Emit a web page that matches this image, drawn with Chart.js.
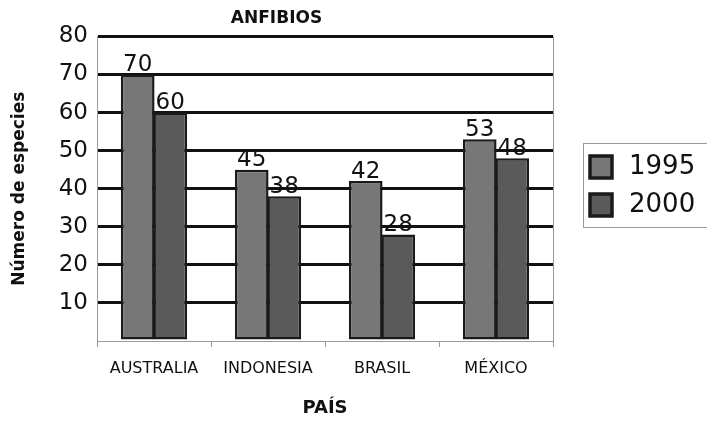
<!DOCTYPE html>
<html lang="es">
<head>
    <meta charset="UTF-8">
    <title>ANFIBIOS</title>
    <script src="https://cdn.jsdelivr.net/npm/chart.js@4.4.1/dist/chart.umd.min.js"></script>
    <style>
        body { margin: 0; background: #fff; }
    </style>
</head>
<body>
    <canvas id="grafico" width="707" height="422"></canvas>

    <script>
        // datos
        const paises = ['AUSTRALIA', 'INDONESIA', 'BRASIL', 'MÉXICO'];
        const anios = ['1995', '2000'];
        const especies1995 = [70, 45, 42, 53];
        const especies2000 = [60, 38, 28, 48];
        const marcasY = [10, 20, 30, 40, 50, 60, 70, 80];

        const fuenteNum = '"DejaVu Sans", Verdana, sans-serif';

        // etiquetas de valor encima de cada barra
        const etiquetas = {
            id: 'etiquetas',
            afterDatasetsDraw(chart) {
                const ctx = chart.ctx;
                ctx.save();
                ctx.font = '23px ' + fuenteNum;
                ctx.fillStyle = '#111';
                ctx.textAlign = 'center';
                ctx.textBaseline = 'bottom';
                chart.data.datasets.forEach((ds, i) => {
                    chart.getDatasetMeta(i).data.forEach((bar, j) => {
                        ctx.fillText(ds.data[j], bar.x, bar.y + 2);
                    });
                });
                ctx.restore();
            }
        };

        // borde gris del área de trazado (lado derecho)
        const bordeArea = {
            id: 'bordeArea',
            beforeDatasetsDraw(chart) {
                const a = chart.chartArea;
                const ctx = chart.ctx;
                ctx.save();
                ctx.strokeStyle = '#999';
                ctx.lineWidth = 1;
                ctx.beginPath();
                ctx.moveTo(a.right + 0.5, a.top);
                ctx.lineTo(a.right + 0.5, a.bottom);
                ctx.stroke();
                ctx.restore();
            }
        };

        // leyenda con recuadro a la derecha
        const leyenda = {
            id: 'leyenda',
            afterDraw(chart) {
                const ctx = chart.ctx;
                ctx.save();
                ctx.strokeStyle = '#999';
                ctx.lineWidth = 1;
                ctx.strokeRect(583.5, 143.5, 140, 84);
                ctx.font = '26px ' + fuenteNum;
                ctx.textBaseline = 'middle';
                ctx.textAlign = 'left';
                chart.data.datasets.forEach((ds, i) => {
                    const y = 156 + i * 38;
                    ctx.fillStyle = ds.backgroundColor;
                    ctx.fillRect(590, y, 22, 22);
                    ctx.strokeStyle = '#1a1a1a';
                    ctx.lineWidth = 3.5;
                    ctx.strokeRect(590, y, 22, 22);
                    ctx.fillStyle = '#111';
                    ctx.fillText(ds.label, 629, y + 11);
                });
                ctx.restore();
            }
        };

        const ctx = document.getElementById('grafico').getContext('2d');
        new Chart(ctx, {
            type: 'bar',
            data: {
                labels: paises,
                datasets: [{
                    label: anios[0],
                    data: especies1995,
                    backgroundColor: '#777777',
                    borderColor: '#1a1a1a',
                    borderWidth: 2.5,
                    borderSkipped: false
                }, {
                    label: anios[1],
                    data: especies2000,
                    backgroundColor: '#5a5a5a',
                    borderColor: '#1a1a1a',
                    borderWidth: 2.5,
                    borderSkipped: false
                }]
            },
            options: {
                responsive: false,
                animation: false,
                layout: { padding: { left: 0, right: 154, top: 0, bottom: 0 } },
                datasets: {
                    bar: { categoryPercentage: 0.57, barPercentage: 1.035 }
                },
                plugins: {
                    legend: { display: false },
                    tooltip: { enabled: false },
                    title: {
                        display: true,
                        text: 'ANFIBIOS',
                        color: '#111',
                        font: { family: fuenteNum, size: 17, weight: 'bold' },
                        padding: { top: 8, bottom: 8 }
                    }
                },
                scales: {
                    x: {
                        grid: {
                            offset: true,
                            drawOnChartArea: false,
                            drawTicks: true,
                            tickLength: 6,
                            color: '#999'
                        },
                        border: { color: '#999', width: 1 },
                        ticks: {
                            color: '#111',
                            padding: 12,
                            maxRotation: 0,
                            font: { family: fuenteNum, size: 16 }
                        },
                        title: {
                            display: true,
                            text: 'PAÍS',
                            color: '#111',
                            font: { family: fuenteNum, size: 18, weight: 'bold' },
                            padding: { top: 4, bottom: 3 }
                        },
                        afterFit(scale) { scale.height = 81; }
                    },
                    y: {
                        min: 0,
                        max: 80,
                        afterBuildTicks(scale) {
                            scale.ticks = [0].concat(marcasY).map(v => ({ value: v }));
                        },
                        grid: {
                            drawTicks: false,
                            color: c => c.tick.value === 0 ? 'rgba(0,0,0,0)' : '#111',
                            lineWidth: 3
                        },
                        border: { color: '#999', width: 1 },
                        ticks: {
                            color: '#111',
                            padding: 9,
                            font: { family: fuenteNum, size: 23 },
                            callback: v => v === 0 ? '' : v
                        },
                        title: {
                            display: true,
                            text: 'Número de especies',
                            color: '#111',
                            font: { family: fuenteNum, size: 17, weight: 'bold' },
                            padding: { top: 9, bottom: 0 }
                        },
                        afterFit(scale) { scale.width = 97; }
                    }
                }
            },
            plugins: [etiquetas, bordeArea, leyenda]
        });
    </script>
</body>
</html>
